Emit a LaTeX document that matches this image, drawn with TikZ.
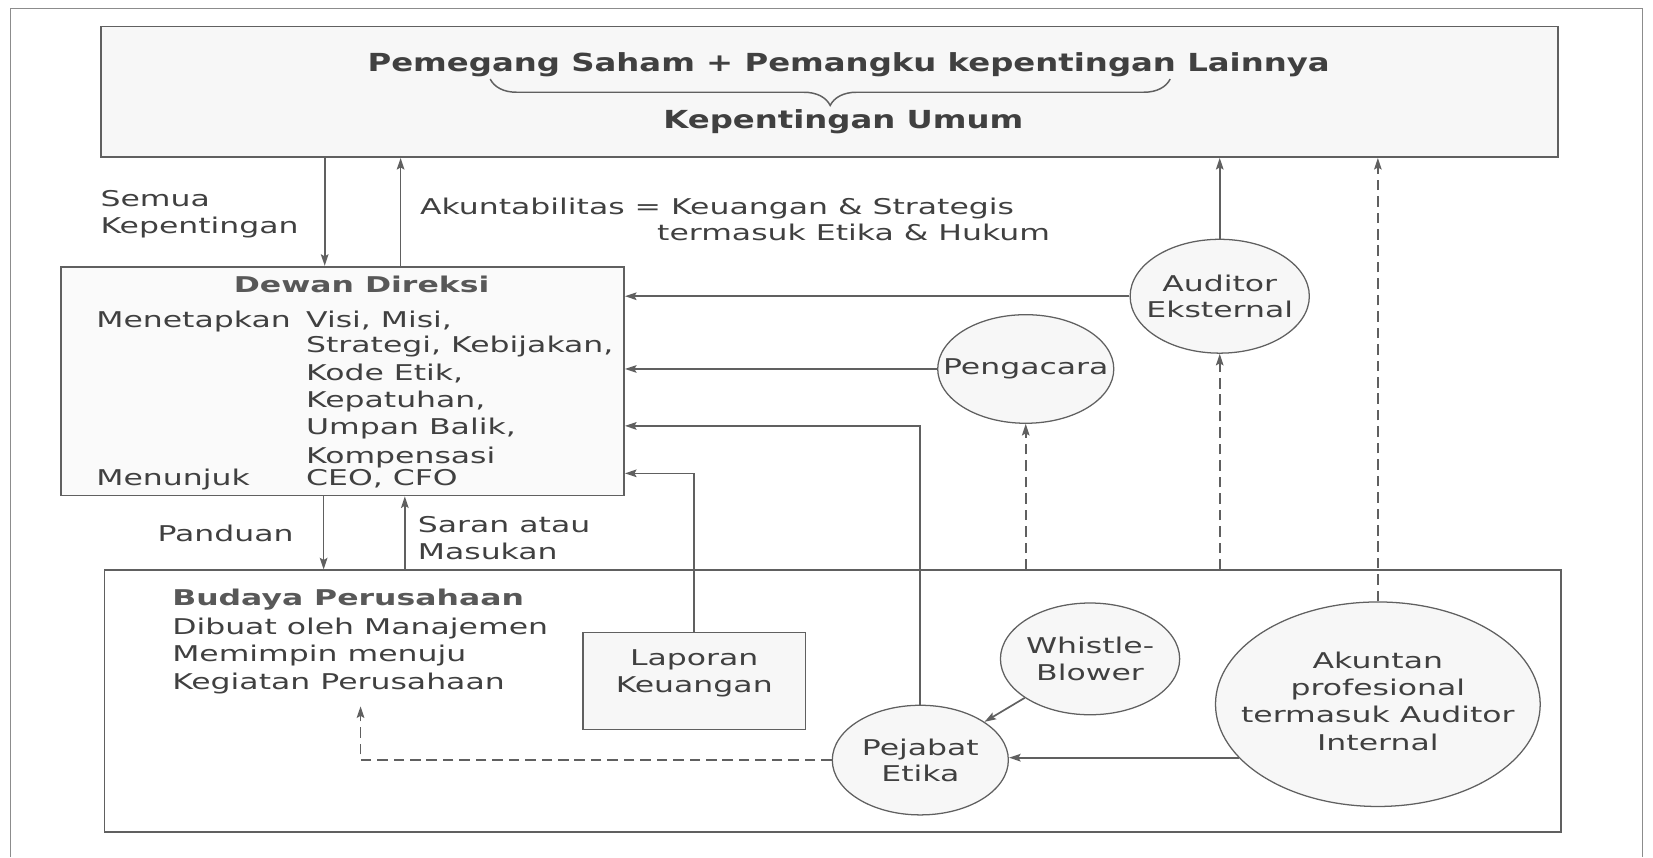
\documentclass[tikz,border=0pt]{standalone}
\usepackage{fontspec}
\setmainfont[FakeStretch=1.45]{DejaVu Sans}
\newfontfamily\titlefam[FakeStretch=1.3]{DejaVu Sans}
\usetikzlibrary{arrows.meta,shapes.geometric,fit,decorations.pathreplacing}
\definecolor{linec}{HTML}{606060}
\definecolor{txt}{HTML}{404040}
\definecolor{hdr}{HTML}{585858}
\newcommand{\bodyfnt}{\fontsize{10.3}{12.9}\selectfont}
\newcommand{\circfnt}{\fontsize{10.3}{12.5}\selectfont}
\newcommand{\titlefnt}{\titlefam\bfseries\fontsize{11.8}{14}\selectfont}
\begin{document}
\begin{tikzpicture}[x=0.5pt,y=-0.5pt,
  line/.style={draw=linec, line width=0.8pt},
  arr/.style={line, -{Stealth[length=5.5pt,width=3.6pt,inset=1pt]}},
  dsh/.style={dash pattern=on 5pt off 2.8pt},
  boxn/.style={draw=linec, line width=0.8pt, inner sep=0pt},
  ell/.style={ellipse, draw=linec, line width=0.6pt, fill=black!3, inner sep=0pt},
  ctext/.style={inner sep=0pt, align=center, font=\circfnt, text=txt},
  tl/.style={inner sep=0pt, text=txt, font=\bodyfnt, anchor=base west},
  hd/.style={inner sep=0pt, text=hdr, font=\bodyfnt\bfseries, anchor=base west}]
\useasboundingbox (0,0) rectangle (1568,813);
% outer frame
\draw[draw=black!45, line width=0.6pt] (10,813) -- (10,8) -- (1558,8) -- (1558,813);

% boxes
\node[boxn, fill=black!3, fit={(96,25) (1478,149)}] (top) {};
\node[boxn, fill=black!2, fit={(58,253) (592,470)}] (dewan) {};
\node[boxn, fit={(99,541) (1481,789)}] (budaya) {};
\node[boxn, fill=black!3, fit={(553,600) (764,692)}, align=center, font=\bodyfnt, text=txt] (lap) {Laporan\\Keuangan};

% ellipses
\node[ell, minimum width=85pt, minimum height=54pt] (aud) at (1157,281) {};
\node[ctext] (audt) at (aud.center) {Auditor\\Eksternal};
\node[ell, minimum width=83.5pt, minimum height=51.5pt] (pg) at (973,350) {};
\node[ctext] (pgt) at (pg.center) {Pengacara};
\node[ell, minimum width=85pt, minimum height=53pt] (wb) at (1034,625) {};
\node[ctext] (wbt) at (wb.center) {Whistle-\\Blower};
\node[ell, minimum width=83.5pt, minimum height=52pt] (pe) at (873,721) {};
\node[ctext] (pet) at (pe.center) {Pejabat\\Etika};
\node[ell, minimum width=154pt, minimum height=97pt] (ak) at (1307,668) {};
\node[ctext, font=\fontsize{10.3}{13}\selectfont] (akt) at ([yshift=1.5pt]ak.center) {Akuntan\\profesional\\termasuk Auditor\\Internal};

% top texts
\node[inner sep=0pt, text=txt, font=\titlefnt, anchor=base] (t1) at (805,68) {Pemegang Saham + Pemangku kepentingan Lainnya};
\node[inner sep=0pt, text=txt, font=\titlefnt, anchor=base] (t2) at (800,122) {Kepentingan Umum};
\coordinate (brR) at (1110,75);
\coordinate (brL) at (465,75);
\draw[line, line width=0.7pt, decorate, decoration={brace, amplitude=12.5pt}] (brR) -- (brL);

% labels between top and dewan
\node[tl] (s1) at (95,195.5) {Semua};
\node[tl] (s2) at (95,221.5) {Kepentingan};
\node[tl] (a1) at (398,203.5) {Akuntabilitas = Keuangan \& Strategis};
\node[tl] (a2) at (623,228.5) {termasuk Etika \& Hukum};

% dewan texts
\node[inner sep=0pt, text=hdr, font=\bodyfnt\bfseries, anchor=base] (dh) at (343,277.5) {Dewan Direksi};
\node[tl] (m1) at (91,310.5) {Menetapkan};
\node[tl] (l1) at (290,310.5) {Visi, Misi,};
\node[tl] (l2) at (290,334.5) {Strategi, Kebijakan,};
\node[tl] (l3) at (290,360.5) {Kode Etik,};
\node[tl] (l4) at (290,386.5) {Kepatuhan,};
\node[tl] (l5) at (290,412.5) {Umpan Balik,};
\node[tl] (l6) at (290,439.5) {Kompensasi};
\node[tl] (l7) at (290,460.5) {CEO, CFO};
\node[tl] (m2) at (91,460.5) {Menunjuk};

% labels between dewan and budaya
\node[tl] (p1) at (149,513.5) {Panduan};
\node[tl] (r1) at (396,505.5) {Saran atau};
\node[tl] (r2) at (396,530.5) {Masukan};

% budaya texts
\node[hd] (bh) at (163,574.5) {Budaya Perusahaan};
\node[tl] (b1) at (163,601.5) {Dibuat oleh Manajemen};
\node[tl] (b2) at (163,627.5) {Memimpin menuju};
\node[tl] (b3) at (163,654.5) {Kegiatan Perusahaan};

% helper coordinates
\coordinate (cA) at (308,0);
\coordinate (cB) at (380,0);
\coordinate (cC) at (307,0);
\coordinate (cD) at (384,0);
\coordinate (cE) at (0,404);
\coordinate (cF) at (0,449);
\coordinate (kg) at (342,670);

% connectors
\draw[arr] (top.south -| cA) -- (dewan.north -| cA);
\draw[arr] (dewan.north -| cB) -- (top.south -| cB);
\draw[arr] (dewan.south -| cC) -- (budaya.north -| cC);
\draw[arr] (budaya.north -| cD) -- (dewan.south -| cD);
\draw[arr] (aud.west) -- (aud.west -| dewan.east);
\draw[arr] (pg.west) -- (pg.west -| dewan.east);
\draw[arr] (pe.north) |- (dewan.east |- cE);
\draw[arr] (lap.north) |- (dewan.east |- cF);
\draw[arr] (aud.north) -- (top.south -| aud.north);
\draw[arr,dsh] (budaya.north -| aud.south) -- (aud.south);
\draw[arr,dsh] (budaya.north -| pg.south) -- (pg.south);
\draw[arr,dsh] (ak.north) -- (top.south -| ak.north);
\draw[arr] (wb) -- (pe);
\draw[arr] (ak.201) -- (ak.201 -| pe.east);
\draw[arr,dsh] (pe.west) -| (kg);
\end{tikzpicture}
\end{document}
